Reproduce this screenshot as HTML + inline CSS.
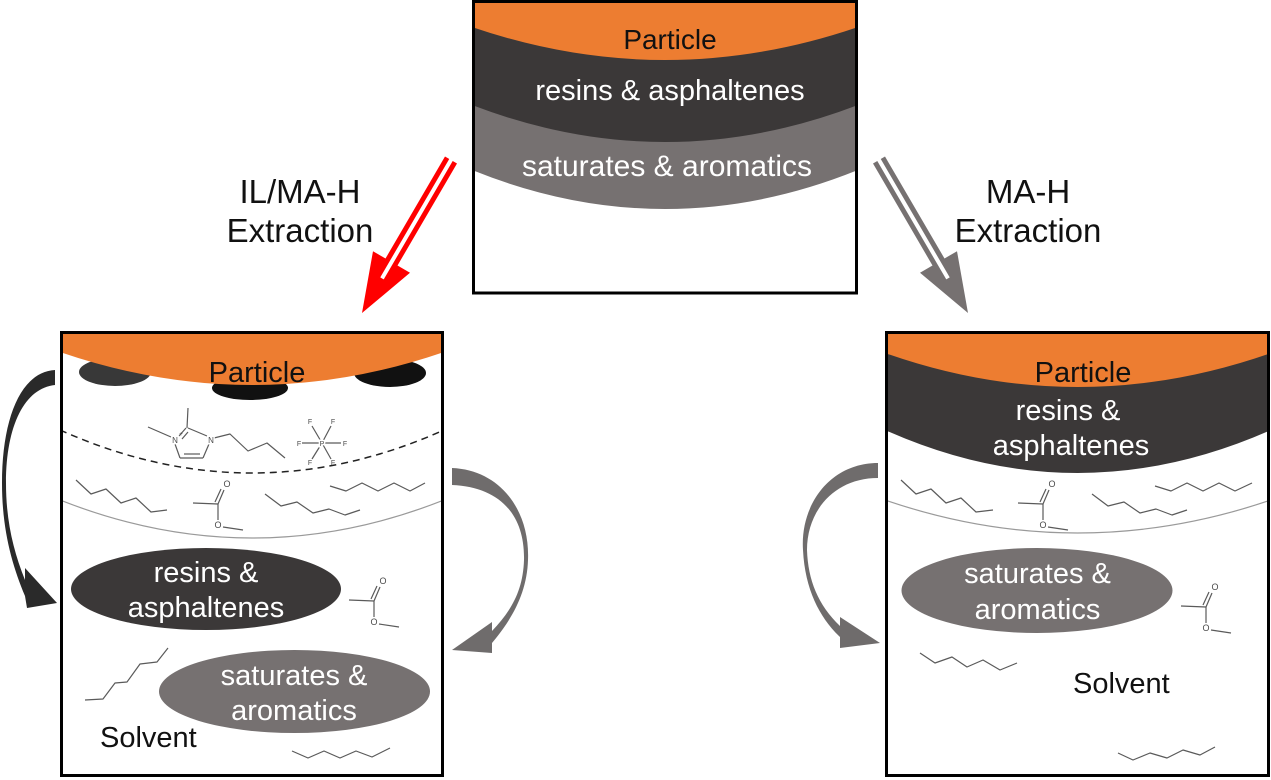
<!DOCTYPE html>
<html>
<head>
<meta charset="utf-8">
<style>
html,body{margin:0;padding:0;background:#fff;width:1271px;height:780px;overflow:hidden}
svg{display:block}
.t{font-family:"Liberation Sans",sans-serif}
.mol{fill:none;stroke:#5a5a5a;stroke-width:1.2;stroke-linejoin:round}
.at{font-family:"Liberation Sans",sans-serif;fill:#4a4a4a;text-anchor:middle}
</style>
</head>
<body>
<svg width="1271" height="780" viewBox="0 0 1271 780" xmlns="http://www.w3.org/2000/svg">
<defs>
  <clipPath id="cTop"><rect x="473" y="1" width="384" height="292"/></clipPath>
  <clipPath id="cL"><rect x="61" y="332" width="382" height="444"/></clipPath>
  <clipPath id="cR"><rect x="886" y="332" width="383" height="444"/></clipPath>
  <g id="ma">
    <line x1="-25" y1="-1" x2="0" y2="0"/>
    <line x1="0" y1="0" x2="6" y2="-14"/>
    <line x1="-3" y1="-2" x2="3" y2="-15"/>
    <line x1="0" y1="0" x2="0" y2="16"/>
    <line x1="5" y1="23" x2="25" y2="26"/>
  </g>
</defs>

<!-- ===== TOP BOX ===== -->
<g clip-path="url(#cTop)">
  <path d="M472,0 H858 V170 Q665,248 472,170 Z" fill="#767171"/>
  <path d="M472,0 H858 V105 Q665,179 472,105 Z" fill="#3B3838"/>
  <path d="M472,0 H858 V27 Q665,93 472,27 Z" fill="#ED7D31"/>
</g>
<rect x="473.5" y="1.5" width="383" height="291.5" fill="none" stroke="#000" stroke-width="3"/>
<text class="t" x="670" y="49" font-size="28" text-anchor="middle" fill="#111">Particle</text>
<text class="t" x="670" y="100" font-size="29" text-anchor="middle" fill="#fff">resins &amp; asphaltenes</text>
<text class="t" x="667" y="176" font-size="30" text-anchor="middle" fill="#fff">saturates &amp; aromatics</text>

<!-- ===== STRAIGHT ARROWS ===== -->
<g id="redArrow">
  <polygon points="445,156.5 457,163.5 397.5,265.5 410,272.8 362,313 373,251.2 385.5,258.5" fill="#FF0000"/>
  <line x1="452.5" y1="157.4" x2="382" y2="278.4" stroke="#fff" stroke-width="4"/>
</g>
<g transform="translate(1330,0) scale(-1,1)">
  <polygon points="445,156.5 457,163.5 397.5,265.5 410,272.8 362,313 373,251.2 385.5,258.5" fill="#767171"/>
  <line x1="452.5" y1="157.4" x2="382" y2="278.4" stroke="#fff" stroke-width="4"/>
</g>

<text class="t" x="300" y="203" font-size="33" text-anchor="middle" fill="#111">IL/MA-H</text>
<text class="t" x="300" y="242" font-size="33" text-anchor="middle" fill="#111">Extraction</text>
<text class="t" x="1028" y="203" font-size="33" text-anchor="middle" fill="#111">MA-H</text>
<text class="t" x="1028" y="242" font-size="33" text-anchor="middle" fill="#111">Extraction</text>

<!-- ===== LEFT BOX ===== -->
<g clip-path="url(#cL)">
  <ellipse cx="115" cy="372" rx="36" ry="14" fill="#383838"/>
  <ellipse cx="250" cy="388" rx="38" ry="12" fill="#111"/>
  <ellipse cx="390" cy="373" rx="36" ry="14" fill="#111"/>
  <path d="M60,331 H444 V352 Q252,418 60,352 Z" fill="#ED7D31"/>
  <path d="M60,430 Q252,516 444,430" fill="none" stroke="#222" stroke-width="1.5" stroke-dasharray="7 5"/>
  <path d="M60,500 Q252,576 444,500" fill="none" stroke="#9a9a9a" stroke-width="1.2"/>
</g>
<rect x="61.5" y="332.5" width="381" height="443" fill="none" stroke="#000" stroke-width="3"/>
<text class="t" x="257" y="382" font-size="29" text-anchor="middle" fill="#111">Particle</text>

<!-- imidazolium -->
<g class="mol">
  <line x1="148" y1="427" x2="171" y2="437"/>
  <line x1="179" y1="436" x2="186" y2="428"/>
  <line x1="182" y1="439" x2="188" y2="432"/>
  <line x1="188" y1="428" x2="207" y2="436"/>
  <line x1="209" y1="444" x2="203" y2="458"/>
  <line x1="203" y1="458" x2="180" y2="458"/>
  <line x1="184" y1="454" x2="200" y2="454"/>
  <line x1="180" y1="458" x2="175" y2="444"/>
  <line x1="187" y1="428" x2="188" y2="408"/>
  <polyline points="214,438 230,434 248,451 267,443 285,458"/>
  <line x1="322" y1="443" x2="312" y2="426"/>
  <line x1="322" y1="443" x2="331" y2="426"/>
  <line x1="322" y1="443" x2="302" y2="443"/>
  <line x1="322" y1="443" x2="341" y2="443"/>
  <line x1="322" y1="443" x2="312" y2="459"/>
  <line x1="322" y1="443" x2="331" y2="459"/>
</g>
<g class="at" font-size="8">
  <text x="175" y="443" fill="#fff" stroke="#fff" stroke-width="3">N</text>
  <text x="175" y="443">N</text>
  <text x="181" y="436" font-size="6">+</text>
  <text x="211" y="443" fill="#fff" stroke="#fff" stroke-width="3">N</text>
  <text x="211" y="443">N</text>
  <text x="322" y="446" font-size="7" fill="#fff" stroke="#fff" stroke-width="3">P</text>
  <text x="322" y="446" font-size="7">P</text>
  <text x="310" y="424" font-size="7">F</text>
  <text x="333" y="424" font-size="7">F</text>
  <text x="299" y="446" font-size="7">F</text>
  <text x="345" y="446" font-size="7">F</text>
  <text x="310" y="465" font-size="7">F</text>
  <text x="333" y="465" font-size="7">F</text>
</g>

<!-- alkanes and methyl acetate, left box -->
<g class="mol">
  <polyline points="76,480 91,494 106,489 121,503 136,498 151,512 167,510"/>
  <polyline points="265,494 281,506 297,502 313,513 329,509 345,515 360,510"/>
  <polyline points="330,486 346,491 362,483 378,491 394,483 410,491 425,483"/>
  <polyline points="85,700 103,699 115,683 127,682 140,664 157,662 168,648"/>
  <polyline points="292,751 308,758 324,751 340,758 356,751 372,757 390,748"/>
  <use href="#ma" x="218" y="504"/>
  <use href="#ma" x="374" y="601"/>
</g>
<g class="at" font-size="9">
  <text x="227" y="487">O</text><text x="218" y="528">O</text>
  <text x="383" y="584">O</text><text x="374" y="625">O</text>
</g>

<ellipse cx="206" cy="589" rx="135" ry="41" fill="#3B3838"/>
<ellipse cx="294.5" cy="691.5" rx="135.5" ry="41.5" fill="#767171"/>
<text class="t" x="206" y="582" font-size="29" text-anchor="middle" fill="#fff">resins &amp;</text>
<text class="t" x="206" y="617" font-size="29" text-anchor="middle" fill="#fff">asphaltenes</text>
<text class="t" x="294" y="685" font-size="29" text-anchor="middle" fill="#fff">saturates &amp;</text>
<text class="t" x="294" y="720" font-size="29" text-anchor="middle" fill="#fff">aromatics</text>
<text class="t" x="100" y="747" font-size="29" fill="#111">Solvent</text>

<!-- ===== RIGHT BOX ===== -->
<g clip-path="url(#cR)">
  <path d="M885,331 H1271 V430 Q1077,516 885,430 Z" fill="#3B3838"/>
  <path d="M885,331 H1271 V353 Q1077,421 885,353 Z" fill="#ED7D31"/>
  <path d="M885,500 Q1077,566 1271,500" fill="none" stroke="#9a9a9a" stroke-width="1.2"/>
</g>
<rect x="886.5" y="332.5" width="382" height="443" fill="none" stroke="#000" stroke-width="3"/>
<text class="t" x="1083" y="382" font-size="29" text-anchor="middle" fill="#111">Particle</text>
<text class="t" x="1068" y="420" font-size="29" text-anchor="middle" fill="#fff">resins &amp;</text>
<text class="t" x="1071" y="455" font-size="29" text-anchor="middle" fill="#fff">asphaltenes</text>

<g class="mol">
  <polyline points="901,480 916,494 931,489 946,503 961,498 976,512 993,510"/>
  <polyline points="1092,494 1108,506 1124,502 1140,513 1156,509 1172,515 1187,510"/>
  <polyline points="1155,486 1171,491 1187,483 1203,491 1219,483 1235,491 1252,483"/>
  <polyline points="920,653 935,663 952,657 967,667 983,660 1000,670 1017,663"/>
  <polyline points="1118,753 1133,760 1150,753 1167,758 1183,750 1200,755 1215,747"/>
  <use href="#ma" x="1043" y="504"/>
  <use href="#ma" x="1206" y="607"/>
</g>
<g class="at" font-size="9">
  <text x="1052" y="487">O</text><text x="1043" y="528">O</text>
  <text x="1215" y="590">O</text><text x="1206" y="631">O</text>
</g>

<ellipse cx="1037" cy="590.5" rx="135.5" ry="42.5" fill="#767171"/>
<text class="t" x="1037.5" y="583" font-size="29" text-anchor="middle" fill="#fff">saturates &amp;</text>
<text class="t" x="1037.5" y="619" font-size="29" text-anchor="middle" fill="#fff">aromatics</text>
<text class="t" x="1073" y="693" font-size="29" fill="#111">Solvent</text>

<!-- ===== CURVED ARROWS ===== -->
<path d="M55,370 C20,372 2,420 2,483 C2,530 12,565 25,596 L27,608 L57,603 L25,568 L25,580 C13,550 6,520 6,483 C6,425 25,388 55,385 Z" fill="#2a2a2a"/>
<path d="M452,468 C500,470 530,510 528,560 C527,592 513,618 492,643 L492,653 L452,650 L492,622 L492,631 C512,610 523,590 524,560 C525,515 500,487 452,485 Z" fill="#6f6c6c"/>
<path d="M878,463 C830,463 800,505 803,550 C805,590 820,618 840,637 L840,648 L880,643 L840,617 L840,626 C818,605 808,580 807,550 C807,510 835,478 878,478 Z" fill="#6f6c6c"/>
</svg>
</body>
</html>
